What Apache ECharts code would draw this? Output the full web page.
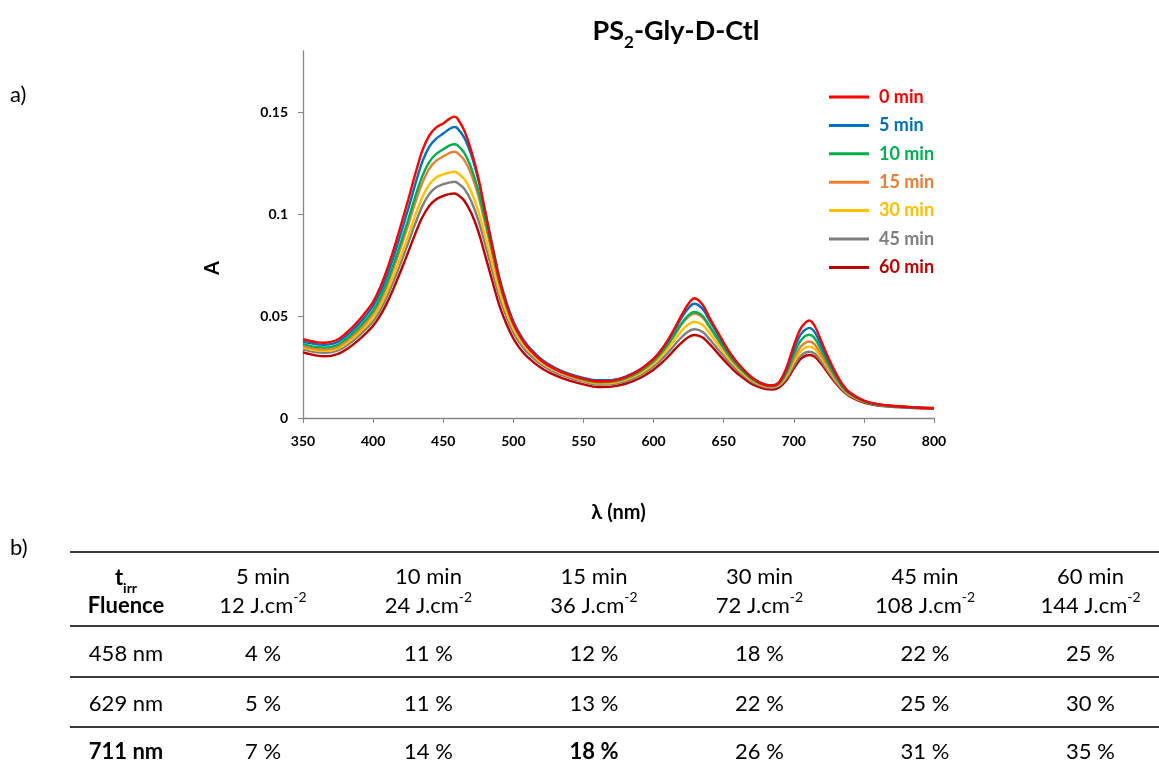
<!DOCTYPE html>
<html>
<head>
<meta charset="utf-8">
<script src="https://cdn.jsdelivr.net/npm/echarts@6/dist/echarts.min.js"></script>
<style>html,body{margin:0;padding:0;background:#fff;}#c{width:1159px;height:769px;}</style>
</head>
<body>
<div id="c"></div>
<script>
// wavelengths (nm)
const X = [350,355,360,365,370,375,380,385,390,395,400,405,410,415,420,425,430,435,440,445,450,455,458,460,465,470,475,480,485,490,495,500,505,510,520,530,540,550,560,570,580,590,600,605,610,615,620,625,629,635,640,645,650,655,660,670,680,685,690,695,700,705,711,715,720,725,730,735,740,750,760,770,780,790,800];
// absorbance per irradiation time
const S0 = [0.0387,0.0378,0.0371,0.0369,0.0373,0.0386,0.0412,0.0443,0.0480,0.0522,0.0570,0.0640,0.0730,0.0835,0.0950,0.1070,0.1195,0.1310,0.1385,0.1425,0.1445,0.1470,0.1478,0.1470,0.1410,0.1310,0.1180,0.1010,0.0840,0.0680,0.0560,0.0465,0.0400,0.0350,0.0282,0.0240,0.0212,0.0193,0.0180,0.0182,0.0200,0.0235,0.0290,0.0330,0.0380,0.0440,0.0505,0.0562,0.0587,0.0555,0.0490,0.0430,0.0370,0.0315,0.0270,0.0200,0.0162,0.0160,0.0180,0.0250,0.0355,0.0440,0.0478,0.0450,0.0370,0.0290,0.0220,0.0162,0.0125,0.0085,0.0068,0.0060,0.0055,0.0050,0.0047];
const S5 = [0.0375,0.0367,0.0361,0.0359,0.0362,0.0374,0.0398,0.0428,0.0463,0.0503,0.0550,0.0615,0.0700,0.0800,0.0910,0.1025,0.1145,0.1255,0.1330,0.1370,0.1395,0.1420,0.1427,0.1422,0.1375,0.1290,0.1170,0.1010,0.0850,0.0690,0.0570,0.0475,0.0408,0.0358,0.0288,0.0245,0.0216,0.0197,0.0185,0.0186,0.0203,0.0236,0.0290,0.0328,0.0375,0.0432,0.0492,0.0540,0.0560,0.0535,0.0478,0.0420,0.0362,0.0310,0.0266,0.0198,0.0163,0.0160,0.0178,0.0240,0.0335,0.0410,0.0442,0.0420,0.0350,0.0278,0.0212,0.0158,0.0122,0.0084,0.0067,0.0059,0.0054,0.0050,0.0047];
const S10 = [0.0362,0.0354,0.0348,0.0346,0.0349,0.0360,0.0383,0.0412,0.0445,0.0483,0.0527,0.0588,0.0668,0.0762,0.0865,0.0972,0.1085,0.1185,0.1255,0.1295,0.1318,0.1338,0.1343,0.1338,0.1300,0.1225,0.1115,0.0970,0.0820,0.0670,0.0555,0.0463,0.0398,0.0350,0.0282,0.0240,0.0211,0.0190,0.0178,0.0180,0.0196,0.0228,0.0280,0.0316,0.0360,0.0412,0.0465,0.0505,0.0520,0.0500,0.0450,0.0398,0.0345,0.0298,0.0257,0.0193,0.0160,0.0157,0.0173,0.0228,0.0312,0.0380,0.0408,0.0390,0.0328,0.0262,0.0202,0.0152,0.0119,0.0083,0.0066,0.0059,0.0054,0.0050,0.0048];
const S15 = [0.0352,0.0344,0.0338,0.0336,0.0339,0.0350,0.0372,0.0400,0.0432,0.0469,0.0512,0.0572,0.0650,0.0742,0.0842,0.0946,0.1055,0.1152,0.1222,0.1262,0.1283,0.1302,0.1306,0.1300,0.1265,0.1195,0.1090,0.0950,0.0805,0.0660,0.0548,0.0458,0.0394,0.0346,0.0279,0.0237,0.0208,0.0187,0.0174,0.0176,0.0192,0.0224,0.0275,0.0311,0.0355,0.0405,0.0458,0.0497,0.0512,0.0492,0.0444,0.0392,0.0340,0.0293,0.0253,0.0190,0.0157,0.0154,0.0168,0.0217,0.0290,0.0350,0.0375,0.0360,0.0305,0.0246,0.0192,0.0146,0.0115,0.0081,0.0065,0.0058,0.0054,0.0050,0.0048];
const S30 = [0.0345,0.0337,0.0331,0.0329,0.0331,0.0341,0.0361,0.0387,0.0417,0.0452,0.0492,0.0548,0.0620,0.0705,0.0797,0.0893,0.0993,0.1082,0.1145,0.1180,0.1195,0.1205,0.1208,0.1203,0.1172,0.1110,0.1015,0.0888,0.0755,0.0622,0.0520,0.0438,0.0379,0.0335,0.0272,0.0232,0.0204,0.0184,0.0170,0.0172,0.0187,0.0217,0.0265,0.0298,0.0338,0.0383,0.0428,0.0460,0.0472,0.0456,0.0415,0.0369,0.0322,0.0280,0.0243,0.0185,0.0155,0.0152,0.0165,0.0208,0.0273,0.0328,0.0350,0.0338,0.0290,0.0236,0.0186,0.0143,0.0113,0.0081,0.0066,0.0059,0.0055,0.0052,0.0050];
const S45 = [0.0335,0.0328,0.0322,0.0320,0.0322,0.0331,0.0350,0.0375,0.0404,0.0437,0.0475,0.0528,0.0597,0.0678,0.0766,0.0858,0.0953,0.1038,0.1098,0.1132,0.1147,0.1156,0.1159,0.1154,0.1124,0.1063,0.0972,0.0850,0.0722,0.0595,0.0498,0.0420,0.0364,0.0322,0.0262,0.0224,0.0197,0.0178,0.0164,0.0166,0.0180,0.0208,0.0252,0.0282,0.0318,0.0358,0.0396,0.0425,0.0435,0.0422,0.0386,0.0345,0.0303,0.0265,0.0231,0.0178,0.0150,0.0148,0.0160,0.0198,0.0255,0.0305,0.0325,0.0315,0.0273,0.0224,0.0178,0.0138,0.0110,0.0079,0.0064,0.0058,0.0054,0.0051,0.0049];
const S60 = [0.0322,0.0313,0.0306,0.0303,0.0305,0.0314,0.0332,0.0356,0.0384,0.0416,0.0452,0.0502,0.0566,0.0642,0.0726,0.0813,0.0903,0.0983,0.1040,0.1073,0.1090,0.1099,0.1101,0.1096,0.1066,0.1005,0.0915,0.0795,0.0672,0.0552,0.0462,0.0390,0.0338,0.0300,0.0245,0.0209,0.0183,0.0165,0.0152,0.0154,0.0168,0.0195,0.0237,0.0265,0.0298,0.0335,0.0370,0.0397,0.0407,0.0395,0.0362,0.0324,0.0285,0.0249,0.0217,0.0167,0.0142,0.0140,0.0152,0.0188,0.0242,0.0290,0.0309,0.0300,0.0262,0.0215,0.0171,0.0133,0.0106,0.0075,0.0061,0.0055,0.0051,0.0048,0.0046];
const seriesNames = ['0 min','5 min','10 min','15 min','30 min','45 min','60 min'];
const seriesValues = [S0,S5,S10,S15,S30,S45,S60];
const colors = ['#FF0000','#0070C0','#00B050','#ED7D31','#FFC000','#7F7F7F','#C00000'];
const yTicks = [0,0.05,0.1,0.15];
const xTicks = [350,400,450,500,550,600,650,700,750,800];

// table
const tirr = ['5 min','10 min','15 min','30 min','45 min','60 min'];
const fluence = ['12','24','36','72','108','144'];
const rowLabels = ['458 nm','629 nm','711 nm'];
const rowValues = [
  [4,11,12,18,22,25],
  [5,11,13,22,25,30],
  [7,14,18,26,31,35]
];

const FONT = "Lato, 'Noto Sans', 'DejaVu Sans', sans-serif";
const chart = echarts.init(document.getElementById('c'), null, {renderer:'canvas'});

const series = seriesValues.map((vals,i)=>({
  name: seriesNames[i],
  type: 'line',
  data: X.map((x,j)=>[x, vals[j]]),
  showSymbol: false,
  symbol: 'none',
  smooth: 0.3,
  lineStyle: {width: 2.4, color: colors[i]},
  itemStyle: {color: colors[i]},
  z: 10 - i,
  animation: false
}));

// graphic: labels + table
const g = [];
g.push({type:'text', style:{text:'{a|PS}{b|2}{a|-Gly-D-Ctl}', x:676, y:31, align:'center', verticalAlign:'middle',
  rich:{a:{fontSize:27, fontWeight:'bold', fontFamily:FONT, fill:'#000'}, b:{fontSize:17, fontWeight:'bold', fontFamily:FONT, fill:'#000', verticalAlign:'bottom', padding:[0,0,-7,0]}}}});
g.push({type:'text', style:{text:'A', x:213, y:268, align:'center', verticalAlign:'middle', fontSize:20, fontWeight:'bold', fontFamily:FONT, fill:'#000'}, rotation: Math.PI/2, x:0, y:0, originX:213, originY:268});
g.push({type:'text', style:{text:'a)', x:10, y:95, fontSize:22, fontFamily:FONT, fill:'#000', verticalAlign:'middle'}});
g.push({type:'text', style:{text:'b)', x:10, y:548, fontSize:22, fontFamily:FONT, fill:'#000', verticalAlign:'middle'}});

const lineYs = [552, 626, 677, 727];
lineYs.forEach(y=>{
  g.push({type:'line', shape:{x1:70, y1:y, x2:1159, y2:y}, style:{stroke:'#3a3a3a', lineWidth:2}});
});
const col0 = 126;
const colX = i => 263 + i*165.5;
const TS = 22;
// header
g.push({type:'text', style:{text:'{t|t}{s|irr}', x:col0, y:578, align:'center', verticalAlign:'middle',
  rich:{t:{fontSize:TS, fontWeight:'bold', fontFamily:FONT, fill:'#000'}, s:{fontSize:14, fontWeight:'bold', fontFamily:FONT, fill:'#000', verticalAlign:'bottom', padding:[0,0,-6,0]}}}});
g.push({type:'text', style:{text:'Fluence', x:col0, y:606, align:'center', verticalAlign:'middle', fontSize:TS, fontWeight:'bold', fontFamily:FONT, fill:'#000'}});
tirr.forEach((t,i)=>{
  g.push({type:'text', style:{text:t, x:colX(i), y:577, align:'center', verticalAlign:'middle', fontSize:TS, fontFamily:FONT, fill:'#000'}});
  g.push({type:'text', style:{text:'{n|'+fluence[i]+' J.cm}{p|-2}', x:colX(i), y:606, align:'center', verticalAlign:'middle',
    rich:{n:{fontSize:TS, fontFamily:FONT, fill:'#000'}, p:{fontSize:14, fontFamily:FONT, fill:'#000', verticalAlign:'top', padding:[-5,0,0,0]}}}});
});
const rowYs = [654, 704, 752];
rowLabels.forEach((lab,r)=>{
  const boldRow = r===2;
  g.push({type:'text', style:{text:lab, x:col0, y:rowYs[r], align:'center', verticalAlign:'middle', fontSize:TS, fontWeight: boldRow?'bold':'normal', fontFamily:FONT, fill:'#000'}});
  rowValues[r].forEach((v,i)=>{
    const b = boldRow && i===2;
    g.push({type:'text', style:{text:v+' %', x:colX(i), y:rowYs[r], align:'center', verticalAlign:'middle', fontSize:TS, fontWeight: b?'bold':'normal', fontFamily:FONT, fill:'#000'}});
  });
});

const option = {
  backgroundColor: '#fff',
  animation: false,
  textStyle: {fontFamily: FONT},
  grid: {left:303, top:51, width:631, height:367, containLabel:false},
  legend: {
    orient:'vertical', left:829, top:87, padding:0, itemWidth:40, itemHeight:3, itemGap:8.4, icon:'rect',
    selectedMode:false,
    textStyle:{fontSize:18, fontWeight:'bold', fontFamily:FONT, lineHeight:20, padding:[0,0,0,5]},
    data: seriesNames.map((n,i)=>({name:n, itemStyle:{color:colors[i]}, textStyle:{color:colors[i]}}))
  },
  xAxis: {
    type:'value', min:350, max:800, interval:50,
    name:'λ (nm)', nameLocation:'middle', nameGap:85,
    nameTextStyle:{fontSize:20, fontWeight:'bold', color:'#000', fontFamily:FONT},
    axisLine:{show:true, lineStyle:{color:'#868686', width:1.3}},
    axisTick:{show:true, length:5, lineStyle:{color:'#868686'}},
    axisLabel:{fontSize:14, fontWeight:'bold', color:'#000', margin:16, fontFamily:FONT, customValues: xTicks},
    splitLine:{show:false}
  },
  yAxis: {
    type:'value', min:0, max:0.18,
    axisLine:{show:true, lineStyle:{color:'#868686', width:1.3}},
    axisTick:{show:true, length:5, lineStyle:{color:'#868686'}, customValues: yTicks},
    axisLabel:{fontSize:14, fontWeight:'bold', color:'#000', margin:15, fontFamily:FONT, customValues: yTicks},
    splitLine:{show:false}
  },
  series: series,
  graphic: g
};
chart.setOption(option);
</script>
</body>
</html>
